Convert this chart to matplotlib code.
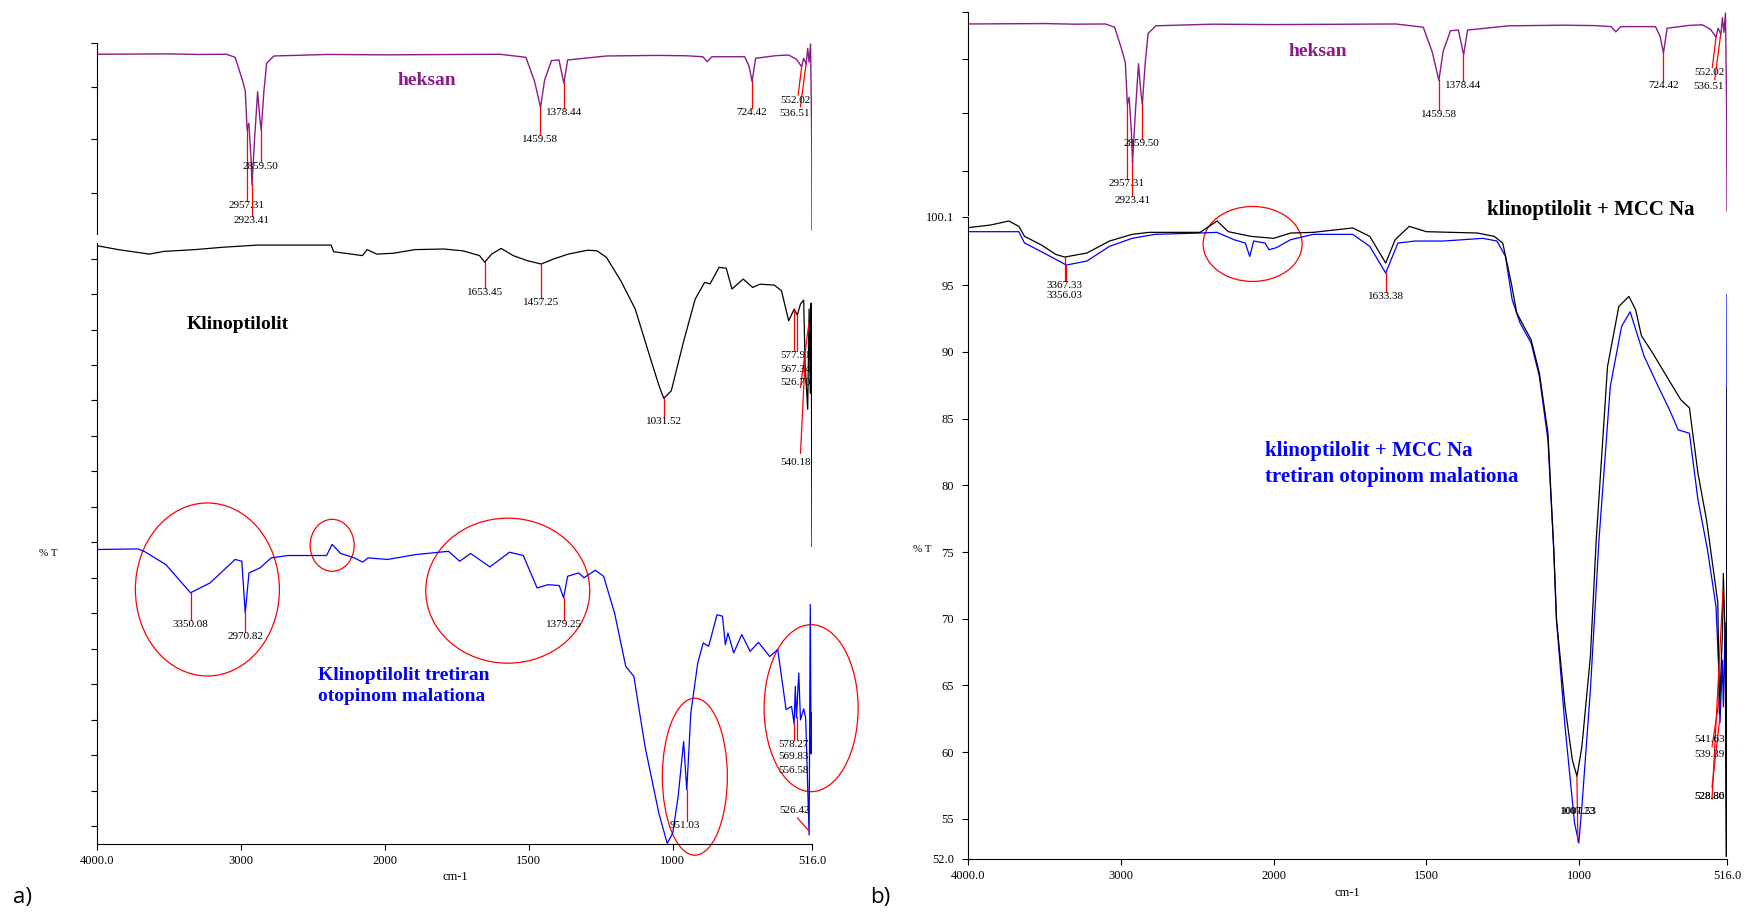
import numpy as np
import matplotlib
matplotlib.use('Agg')
import matplotlib.pyplot as plt
from matplotlib.patches import Ellipse
from matplotlib.ticker import NullLocator

plt.rcParams['font.family'] = ['Liberation Serif', 'DejaVu Serif']

# --- spectra (wavenumber cm-1, %T in each panel's own units) ---
hex_wn = [4000, 3500, 3300, 3100, 3040, 2990, 2970, 2957, 2945, 2930, 2923,
          2905, 2884, 2868, 2859, 2840, 2821, 2771, 2400, 2000, 1600,
          1510, 1480, 1459, 1445, 1421, 1395, 1378, 1365, 1230, 1050,
          950, 895, 880, 864, 750, 735, 724, 712, 640, 597,
          570, 552, 545, 536, 531, 526, 521, 517, 516]
hex_t = [94.1, 94.3, 94.0, 94.1, 92.5, 80.6, 75.0, 54.5, 58.0, 40.0, 25.7,
         50.0, 74.5, 60.0, 54.5, 75.0, 89.4, 93.2, 94.0, 93.8, 94.1,
         92.5, 80.0, 66.3, 80.6, 90.8, 91.1, 78.9, 91.1, 93.2, 93.5,
         93.3, 92.8, 90.2, 92.8, 92.8, 88.0, 79.8, 92.0, 93.4, 93.7,
         91.5, 87.6, 92.0, 89.0, 97.2, 90.0, 99.5, 50.0, 2.1]

klin_wn = [4000, 3852, 3752, 3636, 3536, 3320, 3121, 2888, 2373, 2356,
           2156, 2123, 2056, 1970, 1895, 1795, 1729, 1671, 1653, 1629,
           1596, 1554, 1504, 1457, 1413, 1363, 1296, 1263, 1230, 1180,
           1130, 1080, 1047, 1031, 1005, 963, 922, 889, 870, 839,
           814, 794, 755, 722, 697, 647, 622, 597, 578, 567,
           556, 545, 540, 531, 526, 522, 519, 516]
klin_t = [199.1, 197.8, 197.1, 196.3, 197.2, 197.8, 198.6, 199.3, 199.3, 197.1,
          195.8, 197.8, 196.3, 196.6, 197.8, 198.0, 197.4, 195.8, 193.6, 196.3,
          198.2, 195.8, 194.1, 193.0, 194.7, 196.3, 197.6, 197.4, 195.2, 187.4,
          178.0, 162.4, 152.4, 148.3, 150.8, 166.9, 181.3, 186.9, 186.4, 191.9,
          191.6, 184.7, 188.0, 185.2, 186.3, 186.0, 184.1, 174.1, 178.0, 176.0,
          179.7, 181.0, 160.0, 144.7, 178.0, 150.0, 180.0, 99.0]

mal_wn = [4000, 3715, 3669, 3522, 3350, 3214, 3040, 2994, 2970, 2944,
          2867, 2790, 2674, 2405, 2366, 2308, 2212, 2154, 2116, 1990,
          1894, 1779, 1740, 1702, 1635, 1567, 1519, 1471, 1433, 1394,
          1379, 1365, 1327, 1308, 1269, 1240, 1202, 1163, 1135, 1096,
          1048, 1019, 1000, 981, 962, 951, 937, 913, 894, 875,
          846, 827, 817, 808, 788, 760, 731, 702, 663, 635,
          606, 587, 578, 574, 570, 562, 556, 545, 538, 526,
          522, 519, 516]
mal_t = [98.0, 98.2, 97.3, 93.0, 83.6, 86.9, 94.7, 94.1, 76.9, 90.2,
         91.9, 95.2, 96.0, 96.0, 99.7, 96.7, 95.2, 93.8, 95.2, 94.7,
         96.3, 97.4, 94.1, 96.7, 92.2, 97.1, 96.0, 85.2, 86.3, 86.0,
         81.9, 89.1, 90.2, 88.6, 91.1, 89.1, 76.9, 59.1, 55.8, 32.4,
         10.2, 0.2, 3.6, 15.8, 34.1, 18.0, 43.6, 60.2, 66.9, 65.8,
         76.3, 75.8, 66.3, 70.2, 63.6, 69.7, 64.1, 67.1, 62.4, 64.7,
         44.7, 45.8, 40.0, 52.4, 42.0, 56.9, 41.3, 45.0, 41.9, 3.0,
         79.7, 30.0, 43.6]

mcc_wn = [4000, 3852, 3733, 3667, 3630, 3519, 3426, 3367, 3222, 3074,
          2926, 2815, 2481, 2370, 2296, 2148, 2000, 1944, 1870, 1741,
          1685, 1633, 1602, 1556, 1500, 1333, 1278, 1250, 1222, 1204,
          1157, 1130, 1102, 1083, 1074, 1046, 1022, 1007, 991, 963,
          944, 907, 870, 837, 815, 796, 759, 704, 667, 639,
          611, 583, 574, 556, 546, 541, 531, 528, 522, 518, 516]
mcc_t = [99.3, 99.5, 99.8, 99.4, 98.65, 98.0, 97.3, 97.1, 97.4, 98.3,
         98.8, 98.95, 98.95, 99.8, 99.0, 98.65, 98.5, 98.9, 98.95, 99.28,
         98.65, 96.65, 98.4, 99.4, 99.0, 98.9, 98.65, 98.15, 95.15, 92.9,
         90.9, 88.4, 83.9, 75.2, 69.9, 63.4, 59.4, 58.2, 60.4, 67.2,
         75.9, 88.9, 93.4, 94.15, 93.15, 91.2, 89.9, 87.8, 86.4, 85.8,
         80.9, 77.4, 75.9, 72.9, 71.2, 62.9, 68.9, 73.4, 68.4, 52.2, 87.3]

mccm_wn = [4000, 3667, 3630, 3519, 3356, 3222, 3074, 2926, 2778, 2481,
           2370, 2259, 2185, 2156, 2130, 2056, 2030, 1991, 1944, 1870,
           1741, 1685, 1633, 1593, 1537, 1444, 1315, 1269, 1241, 1219,
           1194, 1157, 1130, 1102, 1083, 1074, 1046, 1015, 1001, 991,
           963, 935, 898, 861, 833, 811, 787, 741, 704, 676,
           639, 611, 580, 565, 552, 543, 539, 531, 528, 522, 518, 516]
mccm_t = [99.0, 99.0, 98.15, 97.5, 96.5, 96.8, 97.9, 98.5, 98.8, 98.9,
          98.95, 98.4, 98.15, 97.15, 98.3, 98.15, 97.65, 97.8, 98.4, 98.8,
          98.8, 97.9, 95.9, 98.15, 98.3, 98.3, 98.5, 98.3, 97.15, 93.9,
          92.2, 90.65, 88.15, 83.4, 75.2, 69.9, 61.9, 54.7, 53.2, 55.9,
          64.7, 75.9, 87.4, 91.9, 93.0, 91.4, 89.65, 87.4, 85.65, 84.15,
          83.9, 78.9, 75.2, 72.9, 70.9, 66.2, 62.2, 66.9, 63.4, 69.7, 52.2, 94.3]

# peak labels
hex_peaks = [2957.31, 2923.41, 2859.50, 1459.58, 1378.44, 724.42, 552.02, 536.51]
klin_peaks = [1653.45, 1457.25, 1031.52, 577.91, 567.34, 526.70, 540.18]
mal_peaks = [3350.08, 2970.82, 1379.25, 951.03, 578.27, 569.83, 556.58, 526.42]
mcc_peaks = [3367.33, 1007.23, 541.63, 528.80]
mccm_peaks = [3356.03, 1633.38, 1001.53, 539.39, 528.86]

xticks = [4000, 3000, 2000, 1500, 1000, 516]
xtick_labels = ['4000.0', '3000', '2000', '1500', '1000', '516.0']
b_yticks = [52, 55, 60, 65, 70, 75, 80, 85, 90, 95, 100.1]
b_ytick_labels = ['52.0', '55', '60', '65', '70', '75', '80', '85', '90', '95', '100.1']

PURPLE = '#8b1a8b'
W, H = 1749, 914


def fwd(x):
    x = np.asarray(x, dtype=float)
    return np.where(x > 2000, 2000 + (x - 2000) / 2, x)


def inv(x):
    x = np.asarray(x, dtype=float)
    return np.where(x > 2000, 2000 + (x - 2000) * 2, x)


def frame(ax, ylim, bottom=True):
    ax.set_xscale('function', functions=(fwd, inv))
    ax.set_xlim(4000, 516)
    ax.set_ylim(*ylim)
    ax.patch.set_alpha(0)
    ax.spines['top'].set_visible(False)
    ax.spines['right'].set_visible(False)
    ax.spines['left'].set_linewidth(0.8)
    ax.spines['bottom'].set_linewidth(0.8)
    ax.xaxis.set_minor_locator(NullLocator())
    ax.yaxis.set_minor_locator(NullLocator())
    ax.tick_params(axis='y', direction='out', length=4, width=0.8, labelsize=9, pad=6)
    if bottom:
        ax.set_xticks(xticks)
        ax.set_xticklabels(xtick_labels)
        ax.tick_params(axis='x', direction='out', length=4, width=0.8, labelsize=9, pad=4)
    else:
        ax.spines['bottom'].set_visible(False)
        ax.set_xticks([])


def label_peaks(ax, wn, t, peaks, spots, fs=8):
    # spots: (text_x, text_y, line_x, line_y); line_x None -> vertical at the peak
    wa = np.array(wn[::-1], dtype=float)
    ta = np.array(t[::-1], dtype=float)
    for p, (tx, ty, lx, ly) in zip(peaks, spots):
        if ly is not None:
            y0 = np.interp(p, wa, ta)
            ax.plot([p, p if lx is None else lx], [y0, ly], color='red', lw=0.9, zorder=3)
        ax.text(tx, ty, f'{p:.2f}', ha='center', va='top', fontsize=fs, zorder=4)


def ring(ax, wn, t, w_px, h_px):
    x, y = ax.transAxes.inverted().transform(ax.transData.transform((wn, t)))
    pos = ax.get_position()
    ax.add_patch(Ellipse((x, y), w_px / (pos.width * W), h_px / (pos.height * H),
                         transform=ax.transAxes, fill=False, ec='red', lw=0.9, clip_on=False))


fig = plt.figure(figsize=(W / 100, H / 100), dpi=100)

ax_h1 = fig.add_axes([97 / W, 1 - 234 / H, 715 / W, 191 / H])
ax_a = fig.add_axes([97 / W, 1 - 844 / H, 715 / W, 601 / H])
ax_h2 = fig.add_axes([968 / W, 1 - 215 / H, 759 / W, 203 / H])
ax_b = fig.add_axes([968 / W, 1 - 859 / H, 759 / W, 642 / H])

hex_spots = [(2962, 17.5, None, 17.5), (2923, 9.6, None, 9.6), (2862, 37.5, None, 37.5),
             (1459.58, 51.8, None, 51.8), (1378.44, 65.8, None, 65.8), (724.42, 65.8, None, 65.8),
             (575, 72.4, 564, 72.8), (575, 65.4, 556, 66.7)]

for ax in (ax_h1, ax_h2):
    frame(ax, (0, 100), bottom=False)
    ax.set_yticks([21.5, 50, 77, 100])
    ax.set_yticklabels([])
    ax.plot(hex_wn, hex_t, color=PURPLE, lw=1.0)
    label_peaks(ax, hex_wn, hex_t, hex_peaks, hex_spots)
    ax.text(1855, 80.5, 'heksan', color=PURPLE, fontsize=14, fontweight='bold',
            ha='center', va='center')

# panel a)
frame(ax_a, (0, 200))
ax_a.set_yticks(np.arange(6, 200, 11.8))
ax_a.set_yticklabels([])
ax_a.plot(klin_wn, klin_t, color='black', lw=0.9)
ax_a.plot(mal_wn, mal_t, color='blue', lw=0.9)

label_peaks(ax_a, klin_wn, klin_t, klin_peaks,
            [(1653.45, 185, None, 185), (1457.25, 181.8, None, 181.8), (1031.52, 142, None, 142),
             (572, 163.9, None, 163.9), (572, 159.4, None, 163.9), (572, 155, 556, 152),
             (572, 128.3, 556, 130)])
label_peaks(ax_a, mal_wn, mal_t, mal_peaks,
            [(3350.08, 74.4, None, 74.4), (2970.82, 70.6, None, 70.6), (1379.25, 74.4, None, 74.4),
             (958, 7.8, None, 7.8), (581, 34.7, None, 34.7), (581, 30.6, None, 34.7),
             (581, 26.1, None, None), (575, 12.8, 566, 8.6)])

ax_a.text(3021, 173, 'Klinoptilolit', fontsize=14, fontweight='bold', ha='center', va='center')
ax_a.text(2462, 52.7, 'Klinoptilolit tretiran\notopinom malationa', color='blue', fontsize=14,
          fontweight='bold', ha='left', va='center', linespacing=1.3)

ring_a_wn = [3233, 2366, 1573, 923, 519]
ring_a_t = [84.7, 99.4, 84.3, 22.4, 45.2]
for (w, t), (rw, rh) in zip(zip(ring_a_wn, ring_a_t),
                            [(144, 173), (44, 52), (164, 145), (65, 157), (94, 167)]):
    ring(ax_a, w, t, rw, rh)

# panel b)
frame(ax_b, (52, 100.1))
ax_b.set_yticks(b_yticks)
ax_b.set_yticklabels(b_ytick_labels)
ax_b.plot(mccm_wn, mccm_t, color='blue', lw=0.9)
ax_b.plot(mcc_wn, mcc_t, color='black', lw=0.9)

label_peaks(ax_b, mcc_wn, mcc_t, mcc_peaks,
            [(3370, 95.3, None, 95.3), (1004, 55.9, 1004, 53.3),
             (574, 61.3, 565, 60.4), (574, 57.0, 565, 56.5)])
label_peaks(ax_b, mccm_wn, mccm_t, mccm_peaks,
            [(3370, 94.55, None, 95.3), (1633.38, 94.45, None, 94.45), (1001, 55.9, None, None),
             (574, 60.2, 565, 57.4), (573, 57.0, None, None)])

ring(ax_b, 2137, 98.08, 99, 75)

ax_h2.text(963, 2.5, 'klinoptilolit + MCC Na', fontsize=15, fontweight='bold',
           ha='center', va='center', clip_on=False)
ax_b.text(2056, 81.6, 'klinoptilolit + MCC Na\ntretiran otopinom malationa', color='blue',
          fontsize=15, fontweight='bold', ha='left', va='center', linespacing=1.35)

fig.text(48 / W, 1 - 553 / H, '% T', fontsize=8, ha='center', va='center')
fig.text(922 / W, 1 - 550 / H, '% T', fontsize=8, ha='center', va='center')
fig.text(455 / W, 1 - 877 / H, 'cm-1', fontsize=9, ha='center', va='center')
fig.text(1347 / W, 1 - 893 / H, 'cm-1', fontsize=9, ha='center', va='center')
fig.text(22 / W, 1 - 898 / H, 'a)', fontsize=16, ha='center', va='center', family='Open Sans')
fig.text(880 / W, 1 - 897 / H, 'b)', fontsize=16, ha='center', va='center', family='Open Sans')

fig.savefig('out.png', dpi=100)
